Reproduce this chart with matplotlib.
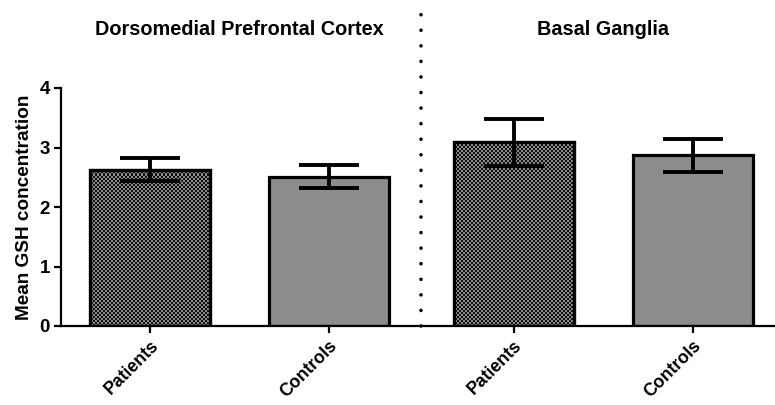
import numpy as np
import matplotlib
matplotlib.use("Agg")
import matplotlib.pyplot as plt

plt.rcParams['font.family'] = ['Liberation Sans', 'DejaVu Sans']
plt.rcParams['font.weight'] = 'bold'

regions = ["Dorsomedial Prefrontal Cortex", "Basal Ganglia"]
groups = ["Patients", "Controls"]
# mean GSH per region, [patients, controls]
means = [[2.63, 2.51], [3.09, 2.87]]
upper = [[2.82, 2.71], [3.48, 3.15]]
lower = [[2.44, 2.32], [2.69, 2.59]]

fig = plt.figure(figsize=(7.75, 4.05), dpi=100)
ax = fig.add_axes([61 / 775, 79 / 405, 714 / 775, 238 / 405])

ax.set_xlim(-0.497, 3.49)
ax.set_ylim(0, 4)

region_gap = 1.03
bar_w = 0.67
ticks = []
labels = []
for r, reg in enumerate(regions):
    for g, grp in enumerate(groups):
        x = r * (1 + region_gap) + g
        m = means[r][g]
        ticks.append(x)
        labels.append(grp)
        bar = ax.bar(x, m, width=bar_w, color='#8c8c8c', edgecolor='black',
                     linewidth=2.3, zorder=2)[0]
        if grp == "Patients":
            # fine black/grey checkerboard fill
            ny, nx = 119, 357
            chk = (np.indices((ny, nx)).sum(axis=0) % 2).astype(float)
            im = ax.imshow(chk, cmap=matplotlib.colors.ListedColormap(['#111111', '#8a8a8a']),
                           extent=(-0.497, 3.49, 0, 4), interpolation='nearest',
                           aspect='auto', zorder=2.5)
            im.set_clip_path(bar)
            ax.bar(x, m, width=bar_w, color='none', edgecolor='black',
                   linewidth=2.3, zorder=3)
        ax.errorbar(x, m, yerr=[[m - lower[r][g]], [upper[r][g] - m]],
                    fmt='none', ecolor='black', elinewidth=2.8, capsize=21.5,
                    capthick=2.8, zorder=4)
    cx = r * (1 + region_gap) + 0.5
    ax.text(cx, 4.98, reg, ha='center', va='center', fontsize=14.3,
            fontweight='bold')

# dotted divider between regions
mid = (1 + (1 + region_gap)) / 2
ax.plot([mid, mid], [0, 5.33], color='black', linewidth=2.6,
        linestyle=(0, (0.01, 4.3)), dash_capstyle='round', clip_on=False, zorder=5)

ax.set_xticks(ticks)
ax.set_xticklabels(labels, rotation=45, ha='right', rotation_mode='anchor',
                   fontsize=12.7, fontweight='bold')
ax.set_yticks([0, 1, 2, 3, 4])
ax.set_yticklabels(['0', '1', '2', '3', '4'], fontsize=13.5, fontweight='bold')
ax.set_ylabel("Mean GSH concentration", fontsize=13.7, fontweight='bold', labelpad=5)

ax.spines['top'].set_visible(False)
ax.spines['right'].set_visible(False)
for s in ['left', 'bottom']:
    ax.spines[s].set_linewidth(1.6)
ax.tick_params(axis='both', width=1.6, length=5, pad=3)

fig.savefig("out.png", dpi=100)
